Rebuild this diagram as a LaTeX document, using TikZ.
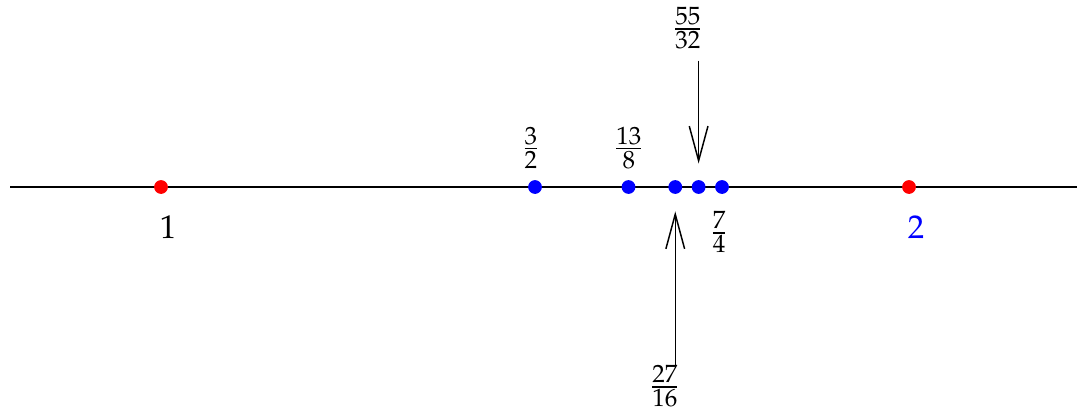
\documentclass[tikz,border=0pt]{standalone}
\usepackage{amsmath}
\usepackage{mathpazo}
\usetikzlibrary{arrows.meta}

\begin{document}
\begin{tikzpicture}[
    ptdot/.style={circle,fill,inner sep=0pt,minimum size=4.2pt},
    ptarrow/.style={-{Straight Barb[length=3.7mm,width=2mm]},line width=0.45pt}]
  \useasboundingbox (-1.722,-2.385) rectangle (9.797,2.0);

  % number line, 8 cm per unit, 1 at the origin
  \def\un{8}
  \coordinate (lft) at (-1.615,0);
  \coordinate (rgt) at (9.797,0);
  \draw[line width=0.8pt] (lft) -- (rgt);

  % the two integers
  \node[ptdot,red] (d1) at ({\un*(1-1)},0) {};
  \node[ptdot,red] (d2) at ({\un*(2-1)},0) {};
  \node (l1) at (0.075,-0.43) {$1$};
  \node[blue] (l2) at (8.075,-0.43) {$2$};

  % bisection points
  \node[ptdot,blue] (d32)   at ({\un*(3/2-1)},0) {};
  \node[ptdot,blue] (d138)  at ({\un*(13/8-1)},0) {};
  \node[ptdot,blue] (d2716) at ({\un*(27/16-1)},0) {};
  \node[ptdot,blue] (d5532) at ({\un*(55/32-1)},0) {};
  \node[ptdot,blue] (d74)   at ({\un*(7/4-1)},0) {};

  \node (l32)   at (3.957,0.42)  {$\frac{3}{2}$};
  \node (l138)  at (5.005,0.42)  {$\frac{13}{8}$};
  \node (l74)   at (5.968,-0.48) {$\frac{7}{4}$};
  \node (l5532) at (5.636,1.70)  {$\frac{55}{32}$};
  \node (l2716) at (5.39,-2.13)  {$\frac{27}{16}$};

  % pointers to the crowded points
  \draw[ptarrow,shorten >=0.17cm] (l5532.south -| d5532) -- (d5532);
  \draw[ptarrow,shorten <=-0.15cm,shorten >=0.18cm] (l2716.north -| d2716) -- (d2716);
\end{tikzpicture}
\end{document}
